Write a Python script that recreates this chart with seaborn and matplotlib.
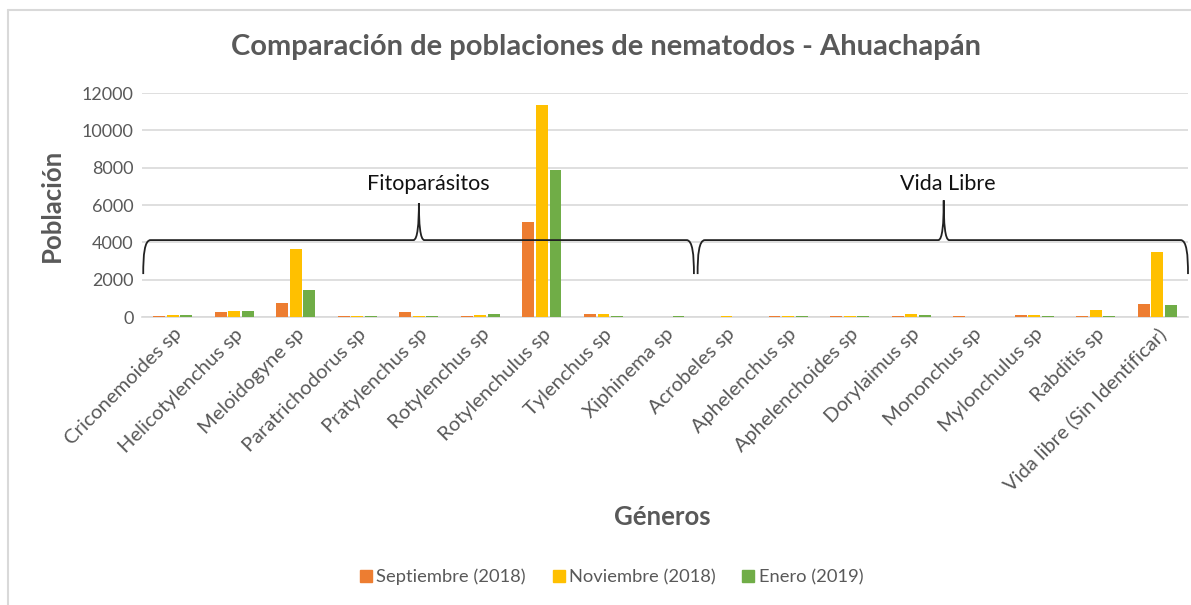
import numpy as np
import pandas as pd
import matplotlib
matplotlib.use("Agg")
import matplotlib.pyplot as plt
from matplotlib.path import Path
from matplotlib.patches import PathPatch
from matplotlib.lines import Line2D
import seaborn as sns

generos = ["Criconemoides sp", "Helicotylenchus sp", "Meloidogyne sp", "Paratrichodorus sp",
           "Pratylenchus sp", "Rotylenchus sp", "Rotylenchulus sp", "Tylenchus sp",
           "Xiphinema sp", "Acrobeles sp", "Aphelenchus sp", "Aphelenchoides sp",
           "Dorylaimus sp", "Mononchus sp", "Mylonchulus sp", "Rabditis sp",
           "Vida libre (Sin Identificar)"]
septiembre = [70, 250, 770, 70, 270, 70, 5100, 180, 0, 0, 55, 55, 55, 55, 125, 55, 700]
noviembre = [125, 320, 3630, 70, 70, 125, 11340, 180, 0, 55, 55, 55, 180, 0, 125, 375, 3500]
enero = [125, 320, 1450, 70, 70, 140, 7860, 55, 70, 0, 55, 55, 125, 0, 55, 55, 645]
series = ["Septiembre (2018)", "Noviembre (2018)", "Enero (2019)"]
colores = ["#ED7D31", "#FFC000", "#70AD47"]
yticks = [0, 2000, 4000, 6000, 8000, 10000, 12000]

df = pd.DataFrame({
    "Género": generos * 3,
    "Serie": [series[0]] * len(generos) + [series[1]] * len(generos) + [series[2]] * len(generos),
    "Población": septiembre + noviembre + enero,
})

sns.set_theme(style="white")
plt.rcParams["font.family"] = ["Lato", "DejaVu Sans"]
GRAY = "#595959"

W, H = 1191, 605
fig = plt.figure(figsize=(W / 100, H / 100), dpi=100)
ax = fig.add_axes([142 / W, 1 - 317 / H, 1046 / W, 224 / H])

sns.barplot(data=df, x="Género", y="Población", hue="Serie", palette=colores,
            order=generos, hue_order=series, width=0.66, gap=0.12, ax=ax,
            legend=False, saturation=1, edgecolor="none")
for p in ax.patches:
    p.set_zorder(3)

ax.set_ylim(0, 12000)
ax.set_xlim(-0.5, len(generos) - 0.5)
ax.set_yticks(yticks)
ax.set_yticklabels([str(v) for v in yticks], color=GRAY, fontsize=13)
ax.yaxis.grid(True, color="#D9D9D9", linewidth=1.2)
ax.set_axisbelow(True)
for s in ["top", "right", "left"]:
    ax.spines[s].set_visible(False)
ax.spines["bottom"].set_color("#D9D9D9")
ax.spines["bottom"].set_linewidth(1.2)
ax.spines["bottom"].set_zorder(0.6)
ax.tick_params(axis="both", length=0, pad=6)
ax.set_xticks(range(len(generos)))
ax.set_xticklabels(generos, rotation=45, ha="right", rotation_mode="anchor",
                   color=GRAY, fontsize=14.5)
ax.set_xlabel("")
ax.set_ylabel("")

# axis titles and chart title
fig.text(52 / W, 1 - 205 / H, "Población", rotation=90, ha="center", va="center",
         fontsize=18.5, fontweight="bold", color=GRAY)
fig.text(662 / W, 1 - 517 / H, "Géneros", ha="center", va="center",
         fontsize=18.5, fontweight="bold", color=GRAY)
fig.text(606 / W, 1 - 47 / H, "Comparación de poblaciones de nematodos - Ahuachapán",
         ha="center", va="center", fontsize=21, fontweight="bold", color=GRAY)

# legend
handles = [Line2D([0], [0], marker="s", linestyle="none", markersize=8,
                  markerfacecolor=c, markeredgecolor=c) for c in colores]
fig.legend(handles, series, loc="center", bbox_to_anchor=(610 / W, 1 - 577 / H),
           ncol=3, frameon=False, fontsize=13.2, labelcolor=GRAY,
           handletextpad=0.05, columnspacing=1.3, handlelength=1.0)


def brace(ax, x0, x1, xp, yb, yh, yp, dx=0.12, dp=0.09):
    verts = [
        (x0, yb),
        (x0, yh - 800), (x0 + 0.02, yh), (x0 + dx, yh),
        (xp - dp, yh),
        (xp - 0.02, yh), (xp, yh + 900), (xp, yp),
        (xp, yh + 900), (xp + 0.02, yh), (xp + dp, yh),
        (x1 - dx, yh),
        (x1 - 0.02, yh), (x1, yh - 800), (x1, yb),
    ]
    codes = [Path.MOVETO,
             Path.CURVE4, Path.CURVE4, Path.CURVE4,
             Path.LINETO,
             Path.CURVE4, Path.CURVE4, Path.CURVE4,
             Path.CURVE4, Path.CURVE4, Path.CURVE4,
             Path.LINETO,
             Path.CURVE4, Path.CURVE4, Path.CURVE4]
    ax.add_patch(PathPatch(Path(verts, codes), facecolor="none", edgecolor="#222222",
                           linewidth=1.3, clip_on=False, zorder=5))


brace(ax, -0.48, 8.47, 4.0, 2300, 4120, 6100)
brace(ax, 8.53, 16.5, 12.53, 2300, 4120, 6250)
ax.text(4.15, 7100, "Fitoparásitos", ha="center", va="center", fontsize=15.5, color="#111111")
ax.text(12.6, 7100, "Vida Libre", ha="center", va="center", fontsize=15.5, color="#111111")

# chart border (left and top visible)
fig.add_artist(Line2D([7.5 / W, 7.5 / W], [0, 1 - 10 / H], transform=fig.transFigure,
                      color="#D9D9D9", linewidth=1.5))
fig.add_artist(Line2D([7.5 / W, 1], [1 - 10 / H, 1 - 10 / H], transform=fig.transFigure,
                      color="#D9D9D9", linewidth=1.5))

fig.savefig("out.png", dpi=100, facecolor="white")
